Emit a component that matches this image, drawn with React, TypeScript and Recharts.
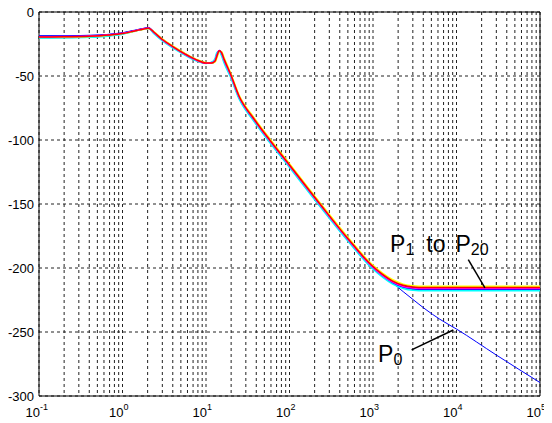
import React from "react";
import {
  LineChart,
  Line,
  XAxis,
  YAxis,
  CartesianGrid,
  ReferenceArea,
  ReferenceLine,
  ReferenceDot,
} from "recharts";

const FONT = '"Liberation Sans", Arial, Helvetica, sans-serif';

// frequency points (rad/s) shared by every response
const FREQ = [
  0.1, 0.2, 0.4, 0.7, 1, 1.4, 1.8, 2.05, 2.4, 3, 4, 5.5, 7.5, 10, 11.7, 12.8, 13.5, 14.4, 15.3, 16.5,
  19.4, 25, 38, 58, 100, 232, 500, 950, 1300, 1700, 2300, 3000, 4200, 6300, 10000, 30000, 100000,
];

// magnitude (dB), one array per line colour of the P1..P20 family
const MAG_RED = [
  -19.5, -19.4, -19.0, -18.0, -16.8, -14.8, -13.2, -12.6, -16.0, -21.5, -27.0, -32.5, -37.0, -39.8, -39.8,
  -38.5, -34.5, -30.2, -31.5, -37.0, -47.5, -66.0, -84.0, -100.0, -119.5, -150.0, -177.0, -197.5, -205.0,
  -210.0, -213.5, -214.8, -215.2, -215.2, -215.2, -215.2, -215.2,
];
const MAG_YELLOW = [
  -19.6, -19.5, -19.1, -18.1, -16.9, -15.0, -13.4, -12.8, -15.6, -21.0, -26.5, -32.0, -36.6, -39.5, -39.9,
  -39.2, -36.0, -31.0, -30.8, -35.8, -46.5, -65.0, -83.0, -99.0, -118.5, -149.0, -176.0, -196.5, -204.0,
  -209.0, -212.6, -213.9, -214.3, -214.3, -214.3, -214.3, -214.3,
];
const MAG_MAGENTA = [
  -19.3, -19.2, -18.8, -17.8, -16.6, -14.6, -13.0, -12.5, -16.3, -21.8, -27.3, -32.8, -37.3, -40.0, -39.6,
  -38.0, -33.5, -30.0, -32.0, -37.8, -48.2, -66.6, -84.6, -100.6, -120.1, -150.6, -177.6, -198.2, -205.8,
  -210.9, -214.4, -215.7, -216.1, -216.1, -216.1, -216.1, -216.1,
];
const MAG_BLUE = [
  -18.8, -18.7, -18.4, -17.5, -16.4, -14.4, -12.9, -12.4, -16.2, -21.6, -27.2, -32.7, -37.2, -39.8, -39.4,
  -37.6, -33.0, -30.0, -32.2, -38.0, -48.5, -67.0, -85.0, -101.0, -120.5, -151.0, -178.0, -198.7, -206.4,
  -211.6, -215.1, -216.5, -216.9, -216.9, -216.9, -216.9, -216.9,
];
const MAG_CYAN = [
  -20.3, -20.2, -19.8, -18.7, -17.3, -15.0, -13.2, -12.9, -17.2, -22.6, -28.0, -33.5, -38.0, -40.3, -39.2,
  -36.5, -31.5, -31.0, -34.0, -40.0, -50.0, -68.2, -86.0, -102.0, -121.5, -152.0, -179.0, -199.6, -207.2,
  -212.4, -216.0, -217.4, -217.8, -217.8, -217.8, -217.8, -217.8,
];
const MAG_GREEN = [
  -20.0, -19.9, -19.4, -18.3, -17.0, -14.9, -13.3, -12.7, -16.6, -22.0, -27.5, -33.0, -37.5, -40.0, -39.6,
  -37.8, -33.2, -30.4, -32.6, -38.4, -48.8, -67.2, -85.2, -101.2, -120.8, -151.2, -178.2, -198.8, -206.2,
  -211.2, -214.8, -216.2, -216.6, -216.6, -216.6, -216.6, -216.6,
];
const MAG_BLACK = [
  -19.6, -19.5, -19.1, -18.0, -16.8, -14.8, -13.2, -12.6, -16.0, -21.4, -27.0, -32.4, -37.0, -39.8, -39.8,
  -38.4, -34.2, -30.4, -31.6, -37.2, -47.8, -66.3, -84.3, -100.3, -119.8, -150.3, -177.3, -197.8, -205.4,
  -210.5, -214.0, -215.3, -215.7, -215.7, -215.7, -215.7, -215.7,
];
// nominal plant P0, keeps rolling off above 1e3
const MAG_P0 = [
  -18.8, -18.7, -18.4, -17.5, -16.4, -14.4, -12.9, -12.4, -16.2, -21.6, -27.2, -32.7, -37.2, -39.8, -39.4,
  -37.6, -33.0, -30.0, -32.2, -38.0, -48.5, -67.0, -85.0, -101.0, -120.5, -151.0, -178.0, -198.7, -206.5,
  -211.5, -218.5, -224.5, -232.0, -240.0, -247.7, -268.0, -289.5,
];

const DECADES = [0.1, 1, 10, 100, 1000, 10000, 100000];
const MINOR = [2, 3, 4, 5, 6, 7, 8, 9];
const Y_TICKS = [-300, -250, -200, -150, -100, -50, 0];

const GRID_TICKS = DECADES.flatMap((d, i) =>
  i < DECADES.length - 1 ? [d, ...MINOR.map((m) => +(d * m).toPrecision(6))] : [d]
);

const rows = FREQ.map((f, i) => ({
  f,
  p0: MAG_P0[i],
  green: MAG_GREEN[i],
  black: MAG_BLACK[i],
  blue: MAG_BLUE[i],
  cyan: MAG_CYAN[i],
  yellow: MAG_YELLOW[i],
  magenta: MAG_MAGENTA[i],
  red: MAG_RED[i],
}));

const FAMILY = [
  { key: "green", color: "#008000" },
  { key: "black", color: "#000000" },
  { key: "blue", color: "#0000ff" },
  { key: "cyan", color: "#00ffff" },
  { key: "yellow", color: "#ffff00" },
  { key: "magenta", color: "#ff00ff" },
  { key: "red", color: "#ff0000" },
];

// only decades get a label; the minor ticks exist for the grid
function DecadeTick(props: any) {
  const { x, y, payload } = props;
  const v = payload.value as number;
  const e = Math.log10(v);
  if (Math.abs(e - Math.round(e)) > 1e-6) return null;
  return (
    <g fontFamily={FONT} fill="#000">
      <text x={x + 1} y={y + 21} textAnchor="end" fontSize={13}>
        10
      </text>
      <text x={x + 1} y={y + 14} textAnchor="start" fontSize={9}>
        {Math.round(e)}
      </text>
    </g>
  );
}

function FamilyLabel(props: any) {
  const { cx, cy } = props;
  return (
    <text x={cx} y={cy} fontFamily={FONT} fontSize={23} fill="#000">
      <tspan>P</tspan>
      <tspan fontSize={16} dy={3}>1</tspan>
      <tspan dx={12} dy={-3}>to</tspan>
      <tspan dx={10}>P</tspan>
      <tspan fontSize={16} dy={3}>20</tspan>
    </text>
  );
}

function P0Label(props: any) {
  const { cx, cy } = props;
  return (
    <text x={cx} y={cy} fontFamily={FONT} fontSize={23} fill="#000">
      <tspan>P</tspan>
      <tspan fontSize={16} dy={3}>0</tspan>
    </text>
  );
}

export default function App() {
  return (
    <div style={{ background: "#fff" }}>
      <style>{".recharts-surface{overflow:visible}"}</style>
      <LineChart width={544} height={415} data={rows} margin={{ top: 4, right: 12, left: 0, bottom: 0 }}>
        <CartesianGrid stroke="#222" strokeDasharray="3 3" />
        <XAxis
          dataKey="f"
          type="number"
          scale="log"
          domain={[0.1, 100000]}
          ticks={GRID_TICKS}
          allowDataOverflow
          axisLine={false}
          tickLine={false}
          tickSize={0}
          tickMargin={0}
          height={27}
          interval={0}
          tick={<DecadeTick />}
        />
        <YAxis
          type="number"
          domain={[-300, 0]}
          ticks={Y_TICKS}
          width={31}
          axisLine={false}
          tickLine={false}
          tickSize={3}
          tickMargin={2}
          interval={0}
          tick={{ fill: "#000", fontSize: 13, fontFamily: FONT }}
        />
        <Line
          dataKey="p0"
          stroke="#0000ff"
          strokeWidth={1}
          dot={false}
          type="monotone"
          isAnimationActive={false}
        />
        {FAMILY.map((s) => (
          <Line
            key={s.key}
            dataKey={s.key}
            stroke={s.color}
            strokeWidth={1.5}
            dot={false}
            type="monotone"
            isAnimationActive={false}
          />
        ))}
        <ReferenceLine
          segment={[
            { x: 13840, y: -193.5 },
            { x: 21900, y: -215.5 },
          ]}
          stroke="#000"
          strokeWidth={1.5}
        />
        <ReferenceLine
          segment={[
            { x: 2900, y: -264 },
            { x: 9160, y: -248.4 },
          ]}
          stroke="#000"
          strokeWidth={1.5}
        />
        <ReferenceDot x={1600} y={-187.5} r={0} shape={<FamilyLabel />} />
        <ReferenceDot x={1150} y={-273.4} r={0} shape={<P0Label />} />
        <ReferenceArea x1={0.1} x2={100000} y1={-300} y2={0} fill="none" stroke="#000" strokeWidth={1} />
      </LineChart>
    </div>
  );
}
